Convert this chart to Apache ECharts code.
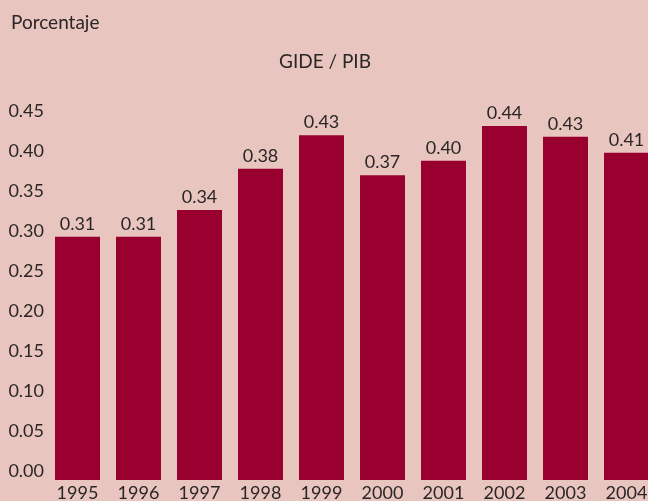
<!DOCTYPE html>
<html>
<head>
<meta charset="utf-8">
<script src="https://cdn.jsdelivr.net/npm/echarts@6/dist/echarts.min.js"></script>
<style>
  html, body { margin: 0; padding: 0; background: #e8c5bf; }
  #chart { width: 648px; height: 501px; }
</style>
</head>
<body>
<div id="chart"></div>
<script>
// GIDE / PIB, porcentaje
var years = ['1995', '1996', '1997', '1998', '1999', '2000', '2001', '2002', '2003', '2004'];
// bar heights
var gidePib = [0.304, 0.304, 0.3375, 0.389, 0.431, 0.381, 0.399, 0.4425, 0.429, 0.409];
// value labels printed over the bars
var barLabels = ['0.31', '0.31', '0.34', '0.38', '0.43', '0.37', '0.40', '0.44', '0.43', '0.41'];

var font = 'Lato, "Open Sans", sans-serif';
var ink = '#2b2626';

var chart = echarts.init(document.getElementById('chart'));
chart.setOption({
  backgroundColor: '#e8c5bf',
  animation: false,
  title: [
    {
      text: 'Porcentaje',
      left: 6,
      top: 8,
      textStyle: { fontFamily: font, fontWeight: 'normal', fontSize: 19, color: ink }
    },
    {
      text: 'GIDE / PIB',
      left: 320,
      textAlign: 'center',
      top: 47,
      textStyle: { fontFamily: font, fontWeight: 'normal', fontSize: 19, color: ink }
    }
  ],
  // the last bar runs off the right edge, as in the original
  grid: { left: 47, width: 610, top: 120, bottom: 21, containLabel: false, outerBoundsMode: 'none' },
  xAxis: {
    type: 'category',
    data: years,
    axisLine: { show: false },
    axisTick: { show: false },
    axisLabel: { margin: 4, fontFamily: font, fontSize: 18, color: ink, hideOverlap: false }
  },
  yAxis: {
    type: 'value',
    min: 0,
    max: 0.45,
    interval: 0.05,
    splitLine: { show: false },
    axisLine: { show: false },
    axisTick: { show: false },
    axisLabel: {
      margin: 3,
      verticalAlign: 'bottom',
      fontFamily: font,
      fontSize: 18,
      color: ink,
      formatter: function (v) { return v.toFixed(2); }
    }
  },
  series: [
    {
      type: 'bar',
      data: gidePib,
      barWidth: 45,
      itemStyle: { color: '#990030' },
      label: {
        show: true,
        position: 'top',
        distance: 4,
        fontFamily: font,
        fontSize: 18,
        color: ink,
        formatter: function (p) { return barLabels[p.dataIndex]; }
      }
    }
  ]
});
</script>
</body>
</html>
